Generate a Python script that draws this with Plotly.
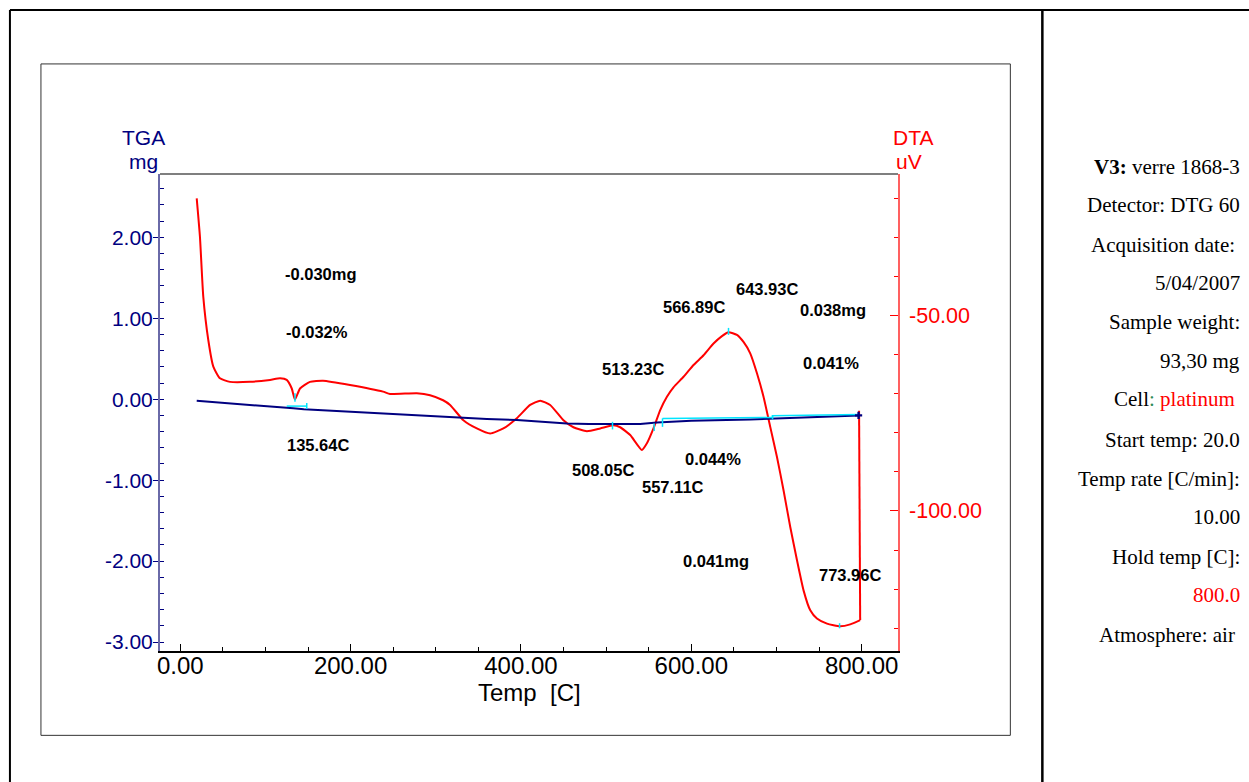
import plotly.graph_objects as go

# ---------------- data ----------------
tga_temp = [19.3, 60, 100, 132.7, 145, 200, 260, 316.8, 360, 395.2, 430, 453.9, 480,
            508.6, 540, 559.6, 600, 669.2, 692.7, 740, 796.4]
tga_mg = [-0.02, -0.05, -0.085, -0.112, -0.125, -0.155, -0.19, -0.225, -0.245, -0.258,
          -0.28, -0.299, -0.305, -0.307, -0.305, -0.287, -0.265, -0.25, -0.243, -0.222, -0.2]

dta_temp = [19.3, 23.1, 27.0, 32.9, 38.8, 46.6, 58.4, 81.9, 105.4, 117.2, 125.0, 130.9,
            134.7, 140.6, 152.3, 167.6, 199.3, 238.1, 246.3, 277.7, 293.3, 308.6, 316.8,
            332.4, 348.2, 363.8, 379.4, 395.2, 410.8, 422.6, 434.3, 449.9, 461.6, 477.4,
            493.1, 508.6, 516.5, 528.3, 542.0, 547.9, 555.6, 563.5, 571.4, 579.1, 590.9,
            602.6, 614.4, 626.1, 636.0, 643.7, 653.6, 661.3, 669.2, 677.1, 684.8, 692.7,
            700.6, 708.3, 716.2, 724.1, 731.8, 739.7, 747.5, 759.3, 774.8, 786.6, 798.3]
dta_uv = [-20.1, -29.9, -45.2, -56.3, -63.1, -66.1, -67.0, -67.0, -66.5, -66.1, -66.5, -68.7,
          -71.5, -68.7, -67.0, -66.7, -67.8, -69.5, -70.1, -69.9, -70.4, -71.7, -72.9,
          -76.8, -78.9, -80.2, -78.9, -76.3, -72.9, -71.8, -72.9, -76.8, -78.6, -79.6,
          -78.9, -78.1, -78.6, -80.6, -84.4, -82.7, -78.9, -74.2, -70.8, -68.4, -65.7,
          -62.7, -60.2, -57.2, -55.3, -54.3, -55.0, -56.8, -59.7, -64.8, -70.8, -78.5,
          -86.2, -94.7, -104.1, -112.6, -120.3, -125.4, -127.5, -128.8, -129.5, -129.0, -127.9]
# isothermal hold at the end of the run
dta_hold_temp = [798.3, 797.0]
dta_hold_uv = [-127.9, -74.4]

# analysis markers (cyan)
tga_step_temp = [125.0, 148.5]
tga_step_mg = [-0.085, -0.085]
tga_step2_temp = [566.2, 695.4, 695.4, 796.4]
tga_step2_mg = [-0.237, -0.226, -0.205, -0.19]
tga_tick_temp = [148.5, 507.5, 556.4, 566.2, 695.4]
tga_tick_lo = [-0.122, -0.373, -0.391, -0.341, -0.25]
tga_tick_hi = [-0.048, -0.279, -0.299, -0.237, -0.197]
dta_tick_temp = [134.7, 643.7, 774.1]
dta_tick_lo = [-72.1, -55.0, -130.0]
dta_tick_hi = [-69.9, -53.2, -128.7]

# peak / step annotations: (text, temp, uV)
labels = ["-0.030mg", "-0.032%", "135.64C", "566.89C", "643.93C", "0.038mg", "513.23C",
          "0.041%", "508.05C", "557.11C", "0.044%", "0.041mg", "773.96C"]
label_temp = [165.3, 160.6, 161.2, 603.4, 689.2, 766.7, 531.2, 763.8, 496.0, 578.8, 625.7, 629.3, 786.1]
label_uv = [-39.4, -54.3, -83.2, -47.9, -43.3, -48.6, -63.7, -62.3, -89.6, -93.9, -86.6, -112.8, -116.4]

x_ticks = [0, 200, 400, 600, 800]
tga_ticks = [-3, -2, -1, 0, 1, 2]
dta_ticks = [-100, -50]

info_lines = [
    "<b>V3:</b> verre 1868-3",
    "Detector: DTG 60",
    "Acquisition date:\u00a0",
    "5/04/2007",
    "Sample weight:",
    "93,30 mg",
    "Cell<span style='color:#2e8b57'>:</span> <span style='color:#ff0000'>platinum</span>\u00a0",
    "Start temp: 20.0",
    "Temp rate [C/min]:",
    "10.00",
    "Hold temp [C]:",
    "<span style='color:#ff0000'>800.0</span>",
    "Atmosphere: air\u00a0",
]

# ---------------- layout helpers (pixel -> paper) ----------------
W, H = 1249, 782
PL, PR, PT, PB = 160, 897.7, 174, 650.7


def px(x):
    return (x - PL) / (PR - PL)


def py(y):
    return (PB - y) / (PB - PT)


SANS = "Liberation Sans, Arial, Helvetica, sans-serif"
SERIF = "Liberation Serif, Times New Roman, serif"
NAVY = "#000080"
RED = "#ff0000"
CYAN = "#00e5ff"

fig = go.Figure()

# DTA (primary axis, right side)
fig.add_trace(go.Scatter(x=dta_temp, y=dta_uv, mode="lines", yaxis="y",
                         line=dict(color=RED, width=2, shape="spline", smoothing=0.5),
                         hoverinfo="skip", showlegend=False))
fig.add_trace(go.Scatter(x=dta_hold_temp, y=dta_hold_uv, mode="lines", yaxis="y",
                         line=dict(color=RED, width=2), hoverinfo="skip", showlegend=False))
for t, lo, hi in zip(dta_tick_temp, dta_tick_lo, dta_tick_hi):
    fig.add_trace(go.Scatter(x=[t, t], y=[lo, hi], mode="lines", yaxis="y",
                             line=dict(color=CYAN, width=1.5), hoverinfo="skip", showlegend=False))

# TGA (overlaying axis, left side)
fig.add_trace(go.Scatter(x=tga_temp, y=tga_mg, mode="lines", yaxis="y2",
                         line=dict(color=NAVY, width=2), hoverinfo="skip", showlegend=False))
fig.add_trace(go.Scatter(x=tga_step_temp, y=tga_step_mg, mode="lines", yaxis="y2",
                         line=dict(color=CYAN, width=1.5), hoverinfo="skip", showlegend=False))
fig.add_trace(go.Scatter(x=tga_step2_temp, y=tga_step2_mg, mode="lines", yaxis="y2",
                         line=dict(color=CYAN, width=1.5), hoverinfo="skip", showlegend=False))
for t, lo, hi in zip(tga_tick_temp, tga_tick_lo, tga_tick_hi):
    fig.add_trace(go.Scatter(x=[t, t], y=[lo, hi], mode="lines", yaxis="y2",
                             line=dict(color=CYAN, width=1.5), hoverinfo="skip", showlegend=False))
fig.add_trace(go.Scatter(x=tga_temp[-1:], y=tga_mg[-1:], mode="markers", yaxis="y2",
                         marker=dict(symbol="cross", size=6, color=NAVY),
                         hoverinfo="skip", showlegend=False))

annotations = []
for txt, t, v in zip(labels, label_temp, label_uv):
    annotations.append(dict(text=txt, x=t, y=v, xref="x", yref="y", showarrow=False,
                            xanchor="center", yanchor="middle",
                            font=dict(family=SANS, size=16.5, color="black", weight="bold")))

# axis titles
annotations += [
    dict(text="TGA", x=px(143.5), y=py(137.5), xref="paper", yref="paper", showarrow=False,
         xanchor="center", yanchor="middle", font=dict(family=SANS, size=21, color=NAVY)),
    dict(text="mg", x=px(144), y=py(162), xref="paper", yref="paper", showarrow=False,
         xanchor="center", yanchor="middle", font=dict(family=SANS, size=21, color=NAVY)),
    dict(text="DTA", x=px(913), y=py(137.5), xref="paper", yref="paper", showarrow=False,
         xanchor="center", yanchor="middle", font=dict(family=SANS, size=21, color=RED)),
    dict(text="uV", x=px(909), y=py(162), xref="paper", yref="paper", showarrow=False,
         xanchor="center", yanchor="middle", font=dict(family=SANS, size=21, color=RED)),
    dict(text="Temp\u00a0 [C]", x=px(529), y=py(692), xref="paper", yref="paper", showarrow=False,
         xanchor="center", yanchor="middle", font=dict(family=SANS, size=24, color="black")),
]

# info panel
baselines = [173.3, 211.7, 251, 289, 328.3, 367.7, 405.7, 446.7, 485, 523.3, 563.3, 601.7, 641.7]
for txt, b in zip(info_lines, baselines):
    annotations.append(dict(text=txt, x=px(1242), y=py(b - 6.5), xref="paper", yref="paper",
                            showarrow=False, xanchor="right", yanchor="middle",
                            font=dict(family=SERIF, size=21, color="black")))

shapes = [
    # outer frame
    dict(type="line", xref="paper", yref="paper", x0=px(10), x1=px(1249), y0=py(10), y1=py(10),
         line=dict(color="black", width=2)),
    dict(type="line", xref="paper", yref="paper", x0=px(10), x1=px(10), y0=py(10), y1=py(782),
         line=dict(color="black", width=2)),
    dict(type="line", xref="paper", yref="paper", x0=px(1042), x1=px(1042), y0=py(10), y1=py(782),
         line=dict(color="black", width=2.5)),
    # inner box
    dict(type="rect", xref="paper", yref="paper", x0=px(41), x1=px(1010), y0=py(735), y1=py(64),
         line=dict(color="#333333", width=1)),
    # top of plot area
    dict(type="line", xref="paper", yref="paper", x0=0, x1=1, y0=1, y1=1,
         line=dict(color="#555555", width=1.5)),
]

fig.update_layout(
    width=W, height=H, autosize=False,
    margin=dict(l=PL, r=W - PR, t=PT, b=H - PB, pad=0),
    paper_bgcolor="white", plot_bgcolor="white",
    showlegend=False,
    xaxis=dict(range=[-23.8, 842.7], tickmode="array", tickvals=x_ticks,
               ticktext=["%.2f" % v for v in x_ticks],
               tickfont=dict(family=SANS, size=24, color="black"),
               ticks="inside", ticklen=7, tickwidth=1, tickcolor="black", ticklabelstandoff=-8,
               minor=dict(tickmode="linear", tick0=0, dtick=50, ticks="inside", ticklen=4,
                          tickcolor="black"),
               showline=True, linecolor="black", linewidth=1.5,
               showgrid=False, zeroline=False),
    yaxis=dict(range=[-135.8, -13.86], side="right", anchor="x",
               tickmode="array", tickvals=dta_ticks, ticktext=["%.2f" % v for v in dta_ticks],
               tickfont=dict(family=SANS, size=21.5, color=RED),
               ticks="inside", ticklen=8, tickcolor=RED, ticklabelstandoff=5,
               minor=dict(tickmode="linear", tick0=0, dtick=10, ticks="inside", ticklen=4,
                          tickcolor=RED),
               showline=True, linecolor="#ff6060", linewidth=1.5,
               showgrid=False, zeroline=False),
    yaxis2=dict(range=[-3.110, 2.782], side="left", overlaying="y", anchor="x",
                tickmode="array", tickvals=tga_ticks, ticktext=["%.2f" % v for v in tga_ticks],
                tickfont=dict(family=SANS, size=21, color=NAVY),
                ticks="outside", ticklen=5, tickcolor=NAVY, ticklabelstandoff=-4,
                minor=dict(tickmode="linear", tick0=0, dtick=0.2, ticks="inside", ticklen=4,
                           tickcolor=NAVY),
                showline=True, linecolor="#6a6aa8", linewidth=2,
                showgrid=False, zeroline=False),
    annotations=annotations,
    shapes=shapes,
)

fig.write_html("out.html", config={"displayModeBar": False},
               post_script="document.body.style.margin='0px';document.body.style.overflow='hidden';")
